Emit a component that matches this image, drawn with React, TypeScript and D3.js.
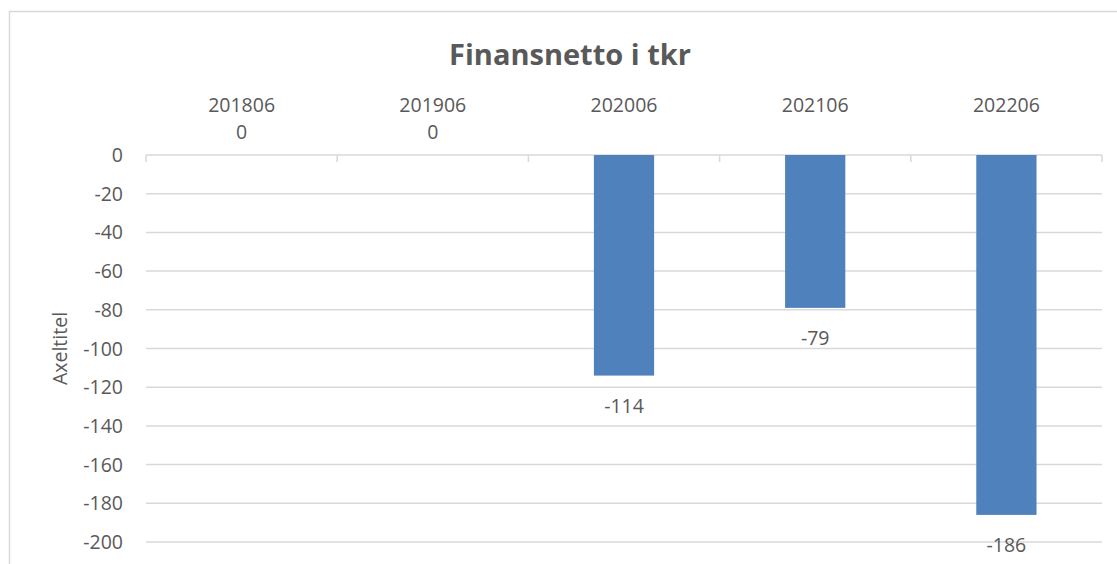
import React from "react";
import * as d3 from "d3";

const categories = ["201806", "201906", "202006", "202106", "202206"];
const values = [0, 0, -114, -79, -186];
const yTicks = [0, -20, -40, -60, -80, -100, -120, -140, -160, -180, -200];
const title = "Finansnetto i tkr";
const axisTitle = "Axeltitel";

const W = 1117;
const H = 564;
const plot = { left: 146, right: 1102, top: 155, bottom: 542 };
const textColor = "#595959";
const gridColor = "#d9d9d9";
const barColor = "#4f81bd";
const font = "'Open Sans', 'Liberation Sans', sans-serif";
const fs = 19.5;

export default function App() {
  const x = d3
    .scaleBand<string>()
    .domain(categories)
    .range([plot.left, plot.right])
    .paddingInner(0.685)
    .paddingOuter(0.3425);
  const band = (plot.right - plot.left) / categories.length;
  const y = d3.scaleLinear().domain([0, -200]).range([plot.top, plot.bottom]);

  return (
    <div style={{ position: "fixed", left: 0, top: 0 }}>
      <svg width={W} height={H} style={{ display: "block", background: "#fff" }}>
        <rect x={9.5} y={11.5} width={W + 20} height={H + 20} fill="#fff" stroke={gridColor} strokeWidth={1.5} />
        <text x={570} y={65} textAnchor="middle" fontFamily={font} fontWeight="bold" fontSize={29} fill={textColor}>
          {title}
        </text>
        {yTicks.map((t) => (
          <g key={t}>
            <line x1={plot.left} x2={plot.right} y1={y(t)} y2={y(t)} stroke={gridColor} strokeWidth={1.5} />
            <text x={123} y={y(t)} dy="0.36em" textAnchor="end" fontFamily={font} fontSize={fs} fill={textColor}>
              {t}
            </text>
          </g>
        ))}
        {d3.range(categories.length + 1).map((i) => (
          <line
            key={i}
            x1={plot.left + i * band}
            x2={plot.left + i * band}
            y1={y(0)}
            y2={y(0) + 7}
            stroke={gridColor}
            strokeWidth={1.5}
          />
        ))}
        {categories.map((c, i) => {
          const v = values[i];
          const cx = (x(c) as number) + x.bandwidth() / 2;
          return (
            <g key={c}>
              <text x={cx} y={105} dy="0.36em" textAnchor="middle" fontFamily={font} fontSize={fs} fill={textColor}>
                {c}
              </text>
              {v !== 0 && (
                <rect x={x(c)} y={y(0)} width={x.bandwidth()} height={y(v) - y(0)} fill={barColor} />
              )}
              <text
                x={cx}
                y={v === 0 ? 132 : y(v) + 30}
                dy="0.36em"
                textAnchor="middle"
                fontFamily={font}
                fontSize={fs}
                fill={textColor}
              >
                {v}
              </text>
            </g>
          );
        })}
        <text
          transform={`translate(60, ${(plot.top + plot.bottom) / 2}) rotate(-90)`}
          textAnchor="middle"
          dy="0.36em"
          fontFamily={font}
          fontSize={fs}
          fill={textColor}
        >
          {axisTitle}
        </text>
      </svg>
    </div>
  );
}
